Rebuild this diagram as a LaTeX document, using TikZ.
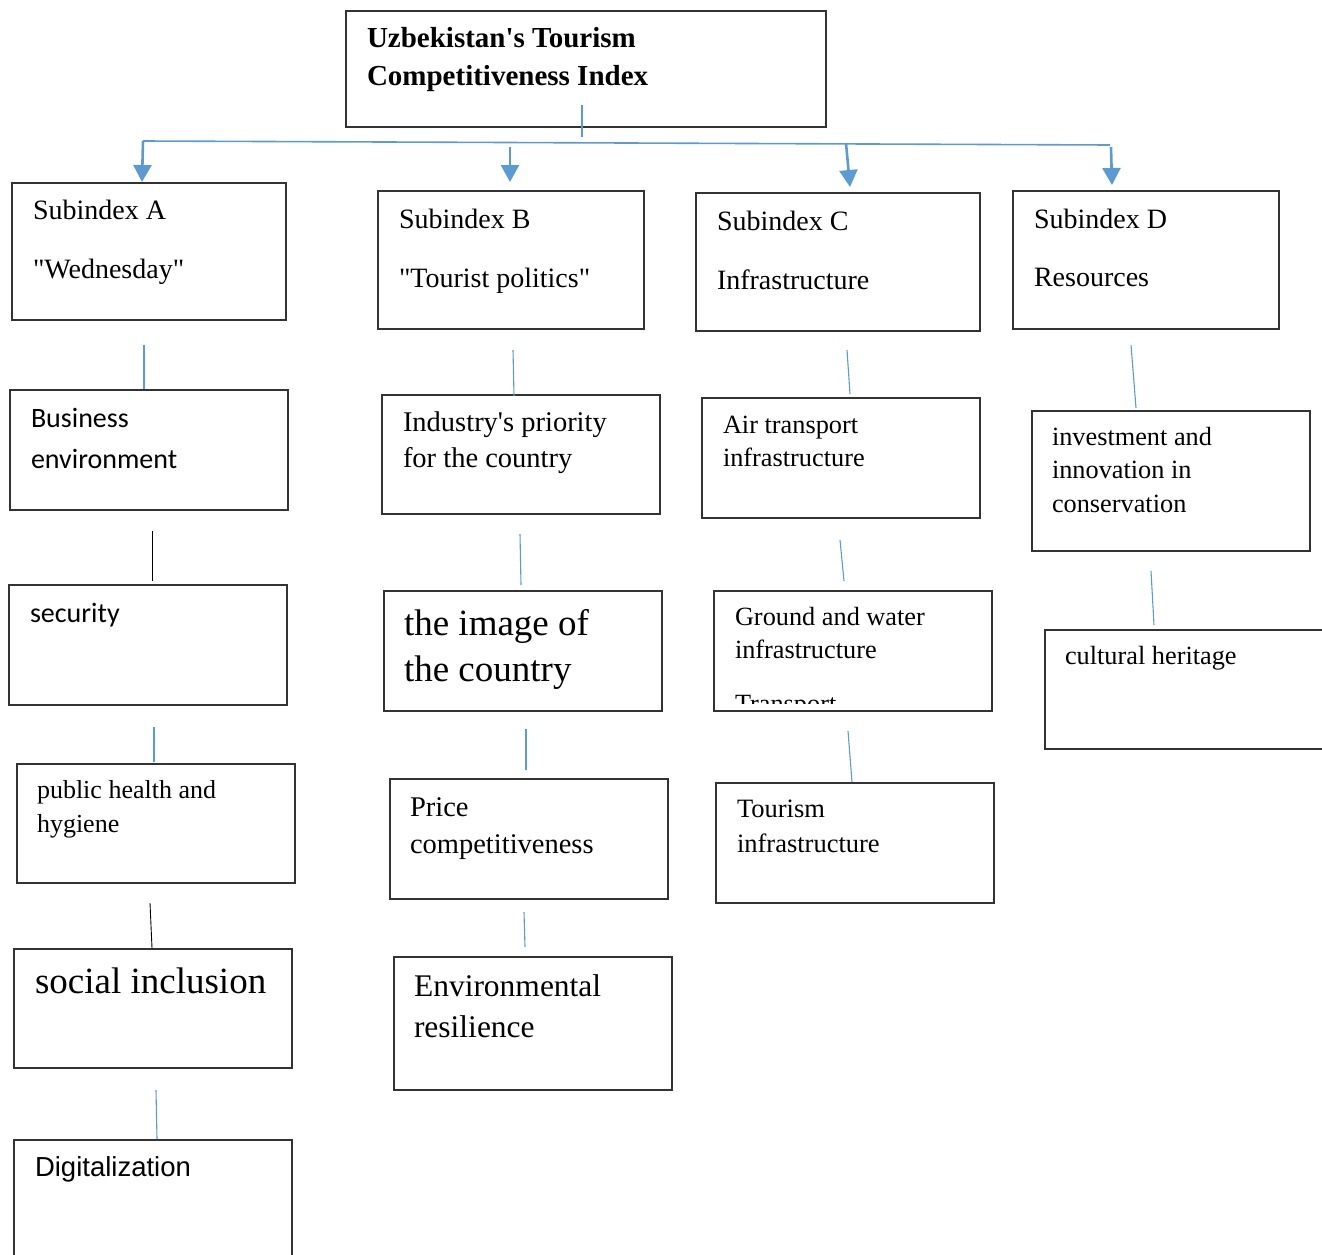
\documentclass[tikz,border=0pt]{standalone}
\usepackage{fontspec}
\setmainfont{Liberation Serif}
\newfontfamily\calibrifont{Carlito}
\newfontfamily\arialfont{Liberation Sans}
\usetikzlibrary{arrows.meta}
\definecolor{wblue}{HTML}{5B9BD5}
\definecolor{boxline}{HTML}{333333}
\newcommand{\fs}[2]{\fontsize{#1}{#2}\selectfont}
\newcommand{\rows}[1]{\begin{tabular}[t]{@{}l@{}}#1\end{tabular}}
\newcommand{\dq}{\textquotedbl}
\tikzset{
  box/.style={draw=boxline, line width=1.2pt, fill=none, inner sep=0pt, outer sep=0pt, anchor=north west},
  txt/.style={inner sep=0pt, outer sep=0pt, anchor=base west, align=left},
  cb/.style={draw=wblue, line width=1.1pt},
  ck/.style={draw=black, line width=0.9pt},
  bus/.style={draw=wblue, line width=1.6pt},
  arr/.style={draw=wblue, fill=wblue, line width=2.6pt, -{Triangle[length=17pt,width=18pt]}}
}
\begin{document}
\begin{tikzpicture}[x=1pt,y=-1pt]
\useasboundingbox (0,0) rectangle (1322,1255);
\clip (0,0) rectangle (1322,1255);
% boxes
\node[box, minimum width=480pt, minimum height=116pt] (T) at (346,11) {};
\node[box, minimum width=274pt, minimum height=137pt] (A) at (12,183) {};
\node[box, minimum width=266pt, minimum height=138pt] (B) at (378,191) {};
\node[box, minimum width=284pt, minimum height=138pt] (C) at (696,193) {};
\node[box, minimum width=266pt, minimum height=138pt] (D) at (1013,191) {};
\node[box, minimum width=278pt, minimum height=120pt] (A1) at (10,390) {};
\node[box, minimum width=278pt, minimum height=120pt] (A2) at (9,585) {};
\node[box, minimum width=278pt, minimum height=119pt] (A3) at (17,764) {};
\node[box, minimum width=278pt, minimum height=119pt] (A4) at (14,949) {};
\node[box, minimum width=278pt, minimum height=170pt] (A5) at (14,1140) {};
\node[box, minimum width=278pt, minimum height=119pt] (B1) at (382,395) {};
\node[box, minimum width=278pt, minimum height=120pt] (B2) at (384,591) {};
\node[box, minimum width=278pt, minimum height=120pt] (B3) at (390,779) {};
\node[box, minimum width=278pt, minimum height=133pt] (B4) at (394,957) {};
\node[box, minimum width=278pt, minimum height=120pt] (C1) at (702,398) {};
\node[box, minimum width=278pt, minimum height=120pt] (C2) at (714,591) {};
\node[box, minimum width=278pt, minimum height=120pt] (C3) at (716,783) {};
\node[box, minimum width=278pt, minimum height=140pt] (D1) at (1032,411) {};
\node[box, minimum width=360pt, minimum height=119pt] (D2) at (1045,630) {};
% texts
\node[txt, font=\bfseries\fs{29}{38}] (tT) at (367,48) {\rows{Uzbekistan\textquotesingle s Tourism\\Competitiveness Index}};
\node[txt, font=\fs{28}{59}] (tA) at (33,219) {\rows{Subindex A\\\dq Wednesday\dq}};
\node[txt, font=\fs{28}{59}] (tB) at (399,228) {\rows{Subindex B\\\dq Tourist politics\dq}};
\node[txt, font=\fs{28}{59}] (tC) at (717,230) {\rows{Subindex C\\Infrastructure}};
\node[txt, font=\fs{28}{58}] (tD) at (1034,228) {\rows{Subindex D\\Resources}};
\node[txt, font=\calibrifont\fs{28}{41}] (tA1) at (31,427) {\rows{Business\\environment}};
\node[txt, font=\calibrifont\fs{28}{40}] (tA2) at (30,622) {security};
\node[txt, font=\fs{26}{34}] (tA3) at (37,798) {\rows{public health and\\hygiene}};
\node[txt, font=\fs{37}{46}] (tA4) at (35,993) {social inclusion};
\node[txt, font=\arialfont\fs{27.5}{34}] (tA5) at (35,1176) {Digitalization};
\node[txt, font=\fs{28.5}{36}] (tB1) at (403,431) {\rows{Industry\textquotesingle s priority\\for the country}};
\node[txt, font=\fs{37}{46}] (tB2) at (404,635) {\rows{the image of\\the country}};
\node[txt, font=\fs{28.5}{37}] (tB3) at (410,816) {\rows{Price\\competitiveness}};
\node[txt, font=\fs{31.5}{41}] (tB4) at (414,996) {\rows{Environmental\\resilience}};
\node[txt, font=\fs{26.3}{33}] (tC1) at (723,433) {\rows{Air transport\\infrastructure}};
\node[txt, font=\fs{26.3}{33}] (tC2) at (735,625) {\rows{Ground and water\\infrastructure}};
\begin{scope}
  \clip (714,591) rectangle (992,703);
  \node[txt, font=\fs{26.3}{33}] (tC2b) at (735,712) {Transport};
\end{scope}
\node[txt, font=\fs{26.5}{35}] (tC3) at (737,817) {\rows{Tourism\\infrastructure}};
\node[txt, font=\fs{26.3}{33.5}] (tD1) at (1052,445) {\rows{investment and\\innovation in\\conservation}};
\node[txt, font=\fs{26.3}{33}] (tD2) at (1065,664) {cultural heritage};
% top bus
\coordinate (busL) at (143,141);
\coordinate (busR) at (1110,145);
\coordinate (sB) at (510,147);
\coordinate (sC) at (846,143);
\coordinate (sD) at (1111,147);
\draw[cb] ([shift={(236,-22)}]T.south west) -- ([shift={(236,10)}]T.south west);
\draw[bus] (busL) -- (busR);
\draw[arr] (busL) -- ([shift={(130,-1)}]A.north west);
\draw[arr] (sB) -- ([shift={(132,-9)}]B.north west);
\draw[arr] (sC) -- ([shift={(154,-6)}]C.north west);
\draw[arr] (sD) -- ([shift={(99,-6)}]D.north west);
% column connectors
\draw[cb] ([shift={(132,25)}]A.south west) -- ([shift={(134,-1)}]A1.north west);
\draw[ck] ([shift={(142,21)}]A1.south west) -- ([shift={(143,-4)}]A2.north west);
\draw[cb] ([shift={(145,22)}]A2.south west) -- ([shift={(137,-2)}]A3.north west);
\draw[ck] ([shift={(133,20)}]A3.south west) -- ([shift={(138,-1)}]A4.north west);
\draw[cb] ([shift={(142,22)}]A4.south west) -- ([shift={(143,-1)}]A5.north west);
\draw[cb] ([shift={(135,21)}]B.south west) -- ([shift={(132,1)}]B1.north west);
\draw[cb] ([shift={(138,20)}]B1.south west) -- ([shift={(137,-6)}]B2.north west);
\draw[cb] ([shift={(142,18)}]B2.south west) -- ([shift={(136,-9)}]B3.north west);
\draw[cb] ([shift={(134,13)}]B3.south west) -- ([shift={(131,-10)}]B4.north west);
\draw[cb] ([shift={(151,19)}]C.south west) -- ([shift={(148,-4)}]C1.north west);
\draw[cb] ([shift={(138,22)}]C1.south west) -- ([shift={(130,-10)}]C2.north west);
\draw[cb] ([shift={(134,20)}]C2.south west) -- ([shift={(136,-1)}]C3.north west);
\draw[cb] ([shift={(118,16)}]D.south west) -- ([shift={(104,-3)}]D1.north west);
\draw[cb] ([shift={(119,20)}]D1.south west) -- ([shift={(109,-5)}]D2.north west);
\end{tikzpicture}
\end{document}
